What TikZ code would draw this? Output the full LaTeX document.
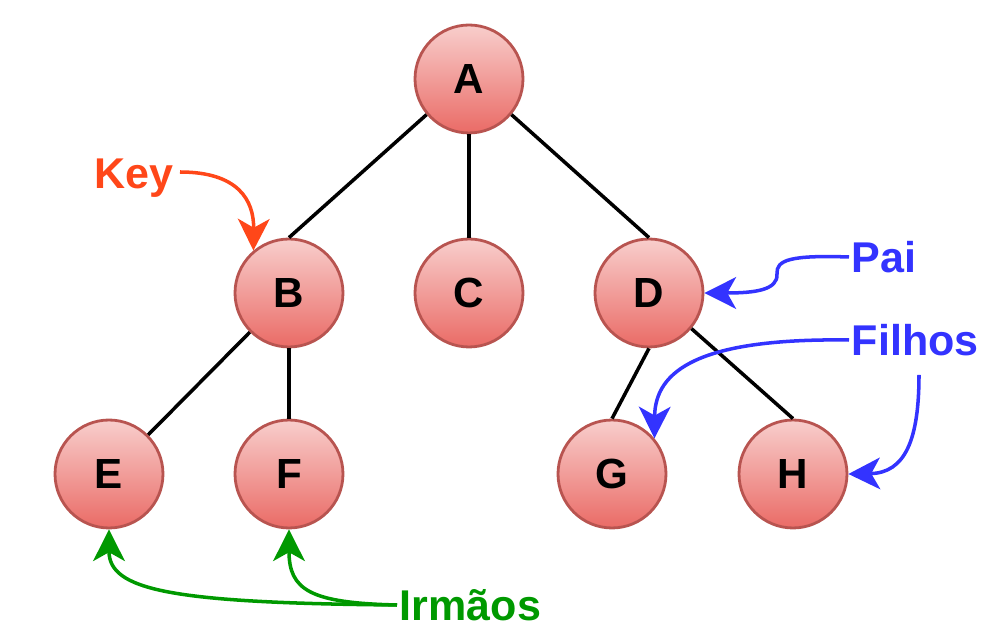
\documentclass[tikz,border=0pt]{standalone}
\usepackage{fontspec}
\setmainfont{Liberation Sans}
\usetikzlibrary{arrows.meta}

\definecolor{nodefill}{HTML}{F8CECC}
\definecolor{nodeshade}{HTML}{EA6B66}
\definecolor{nodeline}{HTML}{B85450}
\definecolor{keycol}{HTML}{FF4719}
\definecolor{paicol}{HTML}{3333FF}
\definecolor{irmcol}{HTML}{009900}

\begin{document}
\begin{tikzpicture}[x=0.02cm, y=-0.02cm,
    treenode/.style={circle, draw=nodeline, line width=1.6pt, top color=nodefill, bottom color=nodeshade,
        minimum size=2.16cm, inner sep=0pt, font=\fontsize{24}{28}\selectfont\bfseries},
    treeline/.style={line width=2pt},
    lbl/.style={inner sep=1.5pt, font=\fontsize{24.5}{28}\selectfont\bfseries},
    pointer/.style={line width=2pt, -{Stealth[length=18pt, width=18pt, inset=5pt]}}]
    \useasboundingbox (0,0) rectangle (1008,644);
    % tree nodes
    \node [treenode] (A) at (469,79) {A};
    \node [treenode] (B) at (289,293) {B};
    \node [treenode] (C) at (469,293) {C};
    \node [treenode] (D) at (649,293) {D};
    \node [treenode] (E) at (109,474) {E};
    \node [treenode] (F) at (289,474) {F};
    \node [treenode] (G) at (612,474) {G};
    \node [treenode] (H) at (793,474) {H};
    % tree links
    \draw [treeline] (A.220) -- (B.north);
    \draw [treeline] (A.south) -- (C.north);
    \draw [treeline] (A.320) -- (D.north);
    \draw [treeline] (B.225) -- (E.45);
    \draw [treeline] (B.south) -- (F.north);
    \draw [treeline] (D.south) -- (G.north);
    \draw [treeline] (D.320) -- (H.north);
    % labels
    \node [lbl, text=keycol] (key) at (134,178) {Key};
    \node [lbl, text=paicol, anchor=west] (pai) at (849,257) {Pai};
    \node [lbl, text=paicol, anchor=west] (fil) at (849,340) {Filhos};
    \node [lbl, text=irmcol, anchor=west] (irm) at (397,605) {Irmãos};
    \coordinate (keyout) at (180,172);
    \coordinate (filout) at (919,375);
    \coordinate (paibend) at (777,274);
    % key
    \draw [pointer, keycol] (keyout) .. controls (238,172) and (254,200) .. (B.130);
    % parent
    \draw [pointer, paicol] (pai.west) .. controls (790,255) and (776,260) .. (paibend)
        .. controls (778,290) and (755,293) .. (D.east);
    % children
    \draw [pointer, paicol] (fil.west) .. controls (700,338) and (655,370) .. (G.40);
    \draw [pointer, paicol] (filout) .. controls (919,440) and (905,473) .. (H.east);
    % siblings
    \draw [pointer, irmcol] (irm.west) .. controls (170,603) and (109,590) .. (E.south);
    \draw [pointer, irmcol] (irm.west) .. controls (310,603) and (289,590) .. (F.south);
\end{tikzpicture}
\end{document}
